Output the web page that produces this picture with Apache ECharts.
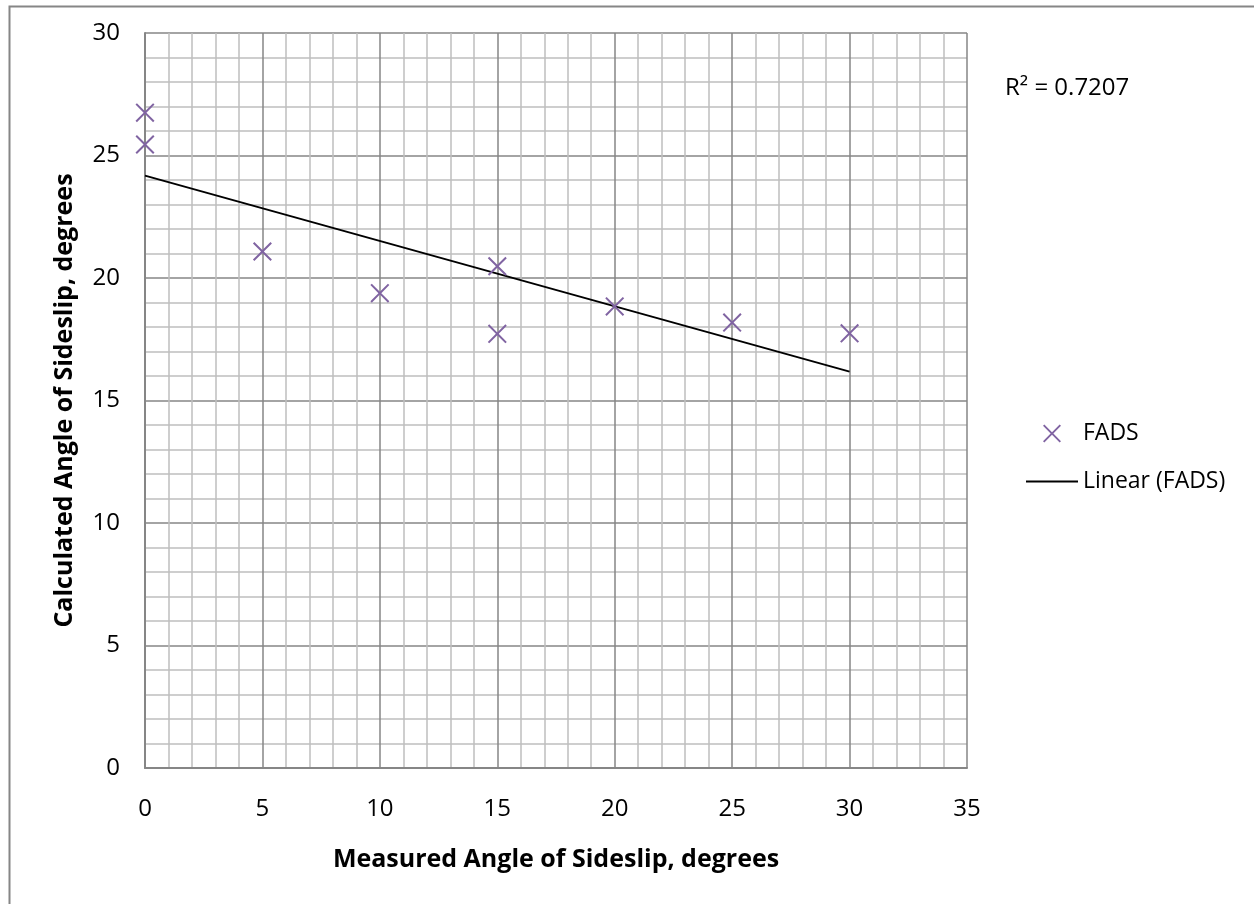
<!DOCTYPE html>
<html>
<head>
<meta charset="utf-8">
<script src="https://cdn.jsdelivr.net/npm/echarts@6/dist/echarts.min.js"></script>
<style>
html,body{margin:0;padding:0;background:#fff;}
#chart{width:1254px;height:904px;}
</style>
</head>
<body>
<div id="chart"></div>
<script>
// Data
const measured = [0, 0, 5, 10, 15, 15, 20, 25, 30];
const calculated = [26.75, 25.45, 21.08, 19.38, 20.48, 17.72, 18.84, 18.18, 17.74];
const trendX = [0, 30];
const trendY = [24.18, 16.18];
const xTicks = [0, 5, 10, 15, 20, 25, 30, 35];
const yTicks = [0, 5, 10, 15, 20, 25, 30];
const rSquared = 'R² = 0.7207';
const seriesName = 'FADS';
const trendName = 'Linear (FADS)';
const xTitle = 'Measured Angle of Sideslip, degrees';
const yTitle = 'Calculated Angle of Sideslip, degrees';

const FONT = '"Open Sans", Lato, sans-serif';
const purple = '#8064A2';
const xPath = 'path://M0,1.5L1.5,0L10,8.5L18.5,0L20,1.5L11.5,10L20,18.5L18.5,20L10,11.5L1.5,20L0,18.5L8.5,10Z';

const chart = echarts.init(document.getElementById('chart'), null, {renderer: 'canvas'});
const option = {
  backgroundColor: '#fff',
  animation: false,
  grid: {left: 145, top: 33, width: 822, height: 735, containLabel: false},
  xAxis: {
    type: 'value', min: xTicks[0], max: xTicks[xTicks.length - 1], interval: 5,
    axisLine: {show: true, onZero: false, lineStyle: {color: '#868686', width: 2}},
    axisTick: {show: false},
    axisLabel: {color: '#000', fontSize: 24, fontFamily: FONT, margin: 29},
    splitLine: {show: true, lineStyle: {color: '#868686', width: 1.5}},
    minorTick: {show: false, splitNumber: 5},
    minorSplitLine: {show: true, lineStyle: {color: '#bfbfbf', width: 1.5}},
    name: xTitle, nameLocation: 'middle', nameGap: 79,
    nameTextStyle: {color: '#000', fontSize: 25, fontWeight: 'bold', fontFamily: FONT}
  },
  yAxis: {
    type: 'value', min: yTicks[0], max: yTicks[yTicks.length - 1], interval: 5,
    axisLine: {show: true, onZero: false, lineStyle: {color: '#868686', width: 2}},
    axisTick: {show: false},
    axisLabel: {color: '#000', fontSize: 24, fontFamily: FONT, margin: 25},
    splitLine: {show: true, lineStyle: {color: '#868686', width: 1.5}},
    minorTick: {show: false, splitNumber: 5},
    minorSplitLine: {show: true, lineStyle: {color: '#bfbfbf', width: 1.5}},
    name: yTitle, nameLocation: 'middle', nameGap: 68,
    nameTextStyle: {color: '#000', fontSize: 25, fontWeight: 'bold', fontFamily: FONT}
  },
  legend: {
    orient: 'vertical', left: 1026, top: 422, padding: 0,
    itemWidth: 52, itemHeight: 18, itemGap: 25,
    textStyle: {color: '#000', fontSize: 23, fontFamily: FONT},
    data: [
      {name: seriesName, icon: xPath, itemStyle: {color: purple}},
      {name: trendName, icon: 'path://M0,0H52V2H0Z', itemStyle: {color: '#000'}}
    ]
  },
  graphic: [
    {type: 'rect', left: 7, top: 4, shape: {width: 1300, height: 1000}, style: {fill: 'none', stroke: '#868686', lineWidth: 2}, silent: true, z: -1},
    {type: 'text', left: 1005, top: 76, style: {text: rSquared, font: '24px ' + FONT, fill: '#000'}}
  ],
  series: [
    {
      name: trendName, type: 'line', showSymbol: false, symbol: 'none',
      data: trendX.map((x, i) => [x, trendY[i]]),
      lineStyle: {color: '#000', width: 2}, itemStyle: {color: '#000'}, z: 3
    },
    {
      name: seriesName, type: 'scatter', symbol: xPath, symbolSize: 19,
      data: measured.map((x, i) => [x, calculated[i]]),
      itemStyle: {color: purple, opacity: 1}, z: 4
    }
  ]
};
chart.setOption(option);
</script>
</body>
</html>
